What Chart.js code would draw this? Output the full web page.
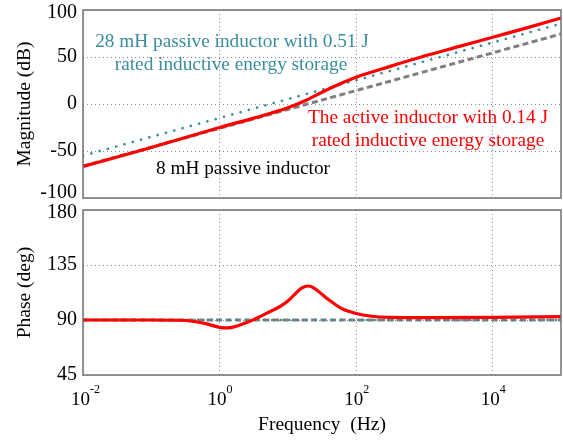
<!DOCTYPE html>
<html>
<head>
<meta charset="utf-8">
<script src="https://cdn.jsdelivr.net/npm/chart.js@4.4.0/dist/chart.umd.min.js"></script>
<style>
    body { margin: 0; background: #fff; }
    #wrap { position: relative; width: 563px; height: 440px; }
    #magBox { position: absolute; left: 0; top: 0; width: 563px; height: 212px; z-index: 2; }
    #phaseBox { position: absolute; left: 0; top: 200px; width: 563px; height: 240px; z-index: 1; }
</style>
</head>
<body>
<div id="wrap">
    <div id="magBox"><canvas id="magChart" width="563" height="212"></canvas></div>
    <div id="phaseBox"><canvas id="phaseChart" width="563" height="240"></canvas></div>
</div>
<script>
// frequency decades shown on the x axis
const decadeTicks = [0.01, 1, 100, 10000]
const decadeExp = ['-2', '0', '2', '4']

// passive inductors (straight lines in the bode plot)
const passiveFreq = [0.01, 100000]
const mag8mH = [-66, 74.5]
const mag28mH = [-55, 85.5]
const phasePassive = [90, 90]

// active inductor magnitude
const activeMagFreq = [0.01, 0.1, 1, 3.16, 10, 17.8, 31.6, 56.2, 100, 316, 1000, 3162, 10000, 31623, 100000]
const activeMag = [-66.5, -46.3, -25, -15, -4, 3.5, 12.5, 21, 28.5, 40, 51, 61, 71, 81, 91.5]

// active inductor phase
const activePhaseFreq = [0.01, 0.1, 0.251, 0.398, 0.631, 1, 1.26, 1.58, 2.51, 3.16, 3.98, 5.01, 6.31, 7.94, 10, 12.6, 15.8, 20, 25.1, 31.6, 39.8, 50.1, 63.1, 79.4, 100, 158, 316, 1000, 10000, 100000]
const activePhase = [90, 90, 89.8, 89, 87, 84, 83.5, 84.2, 88, 90.3, 93, 95.8, 98.5, 101.5, 105.5, 111, 116, 117.8, 115.5, 111, 106.5, 102.5, 99, 97, 95.3, 93.3, 92.2, 92, 92.2, 92.8]

const magTicks = [-100, -50, 0, 50, 100]
const phaseTicks = [45, 90, 135, 180]

const RED = '#ff0000'
const TEAL = '#3a8d9e'
const GREY = '#7f7f7f'
const SERIF = '"Liberation Serif", "DejaVu Serif", serif'

function pts(xs, ys) {
    return xs.map((x, i) => ({ x: x, y: ys[i] }))
}

function lineSet(label, data, color, width, dash) {
    return {
        label: label,
        data: data,
        borderColor: color,
        backgroundColor: color,
        borderWidth: width,
        borderDash: dash || [],
        borderCapStyle: dash && dash[0] < 1 ? 'round' : 'butt',
        pointRadius: 0,
        showLine: true,
        cubicInterpolationMode: 'monotone'
    }
}

function xAxis(showTitle) {
    return {
        type: 'logarithmic',
        min: 0.01,
        max: 100000,
        afterBuildTicks: s => { s.ticks = decadeTicks.map(v => ({ value: v })) },
        ticks: { display: false },
        grid: { color: '#8a8a8a', drawTicks: false, lineWidth: 1 },
        border: { display: false, dash: [1, 3] },
        title: {
            display: showTitle,
            text: 'Frequency  (Hz)',
            color: '#000',
            font: { family: SERIF, size: 19.5 },
            padding: { top: 0, bottom: 3 }
        },
        afterFit: s => { s.height = showTitle ? 65 : 14 }
    }
}

function yAxis(title, min, max, tickVals) {
    return {
        min: min,
        max: max,
        afterBuildTicks: s => { s.ticks = tickVals.map(v => ({ value: v })) },
        ticks: { display: false },
        grid: { color: '#8a8a8a', drawTicks: false, lineWidth: 1 },
        border: { display: false, dash: [1, 3] },
        title: {
            display: true,
            text: title,
            color: '#000',
            font: { family: SERIF, size: 19.5 },
            padding: { top: 13, bottom: 0 }
        },
        afterFit: s => {
            s.width = 83
            s.paddingTop = 0
            s.paddingBottom = 0
        }
    }
}

// grey frame round the plot area
const boxPlugin = {
    id: 'box',
    afterDraw(chart) {
        const a = chart.chartArea
        const ctx = chart.ctx
        ctx.save()
        ctx.strokeStyle = '#707070'
        ctx.lineWidth = 1.5
        ctx.strokeRect(a.left, a.top, a.right - a.left, a.bottom - a.top)
        ctx.restore()
    }
}

// y tick labels, end labels kept inside the box like matlab does
function yLabels(insetTop, insetBottom) {
    return {
        id: 'ylabels',
        afterDraw(chart) {
            const ctx = chart.ctx
            const sy = chart.scales.y
            const a = chart.chartArea
            ctx.save()
            ctx.fillStyle = '#000'
            ctx.font = '20px ' + SERIF
            ctx.textAlign = 'right'
            ctx.textBaseline = 'middle'
            sy.ticks.forEach(t => {
                let py = sy.getPixelForValue(t.value)
                py = Math.min(Math.max(py, a.top + insetTop), a.bottom - insetBottom)
                ctx.fillText(String(t.value), a.left - 6, py)
            })
            ctx.restore()
        }
    }
}

// 10^n labels under the phase plot
const decadeLabels = {
    id: 'decades',
    afterDraw(chart) {
        const ctx = chart.ctx
        const sx = chart.scales.x
        ctx.save()
        ctx.fillStyle = '#000'
        ctx.textBaseline = 'alphabetic'
        decadeTicks.forEach((v, i) => {
            const px = sx.getPixelForValue(v)
            ctx.font = '19px ' + SERIF
            ctx.textAlign = 'right'
            ctx.fillText('10', px + 7, 205)
            ctx.font = '12px ' + SERIF
            ctx.textAlign = 'left'
            ctx.fillText(decadeExp[i], px + 7, 193)
        })
        ctx.restore()
    }
}

// curve labels in the magnitude plot
const notes = [
    { text: '28 mH passive inductor with 0.51 J', x: 232, y: 42, color: TEAL },
    { text: 'rated inductive energy storage', x: 231, y: 65, color: TEAL },
    { text: 'The active inductor with 0.14 J', x: 428, y: 118, color: RED },
    { text: 'rated inductive energy storage', x: 428, y: 141, color: RED },
    { text: '8 mH passive inductor', x: 243, y: 169, color: '#000' }
]
const notePlugin = {
    id: 'notes',
    afterDraw(chart) {
        const ctx = chart.ctx
        ctx.save()
        ctx.font = '19.3px ' + SERIF
        ctx.textAlign = 'center'
        ctx.textBaseline = 'middle'
        notes.forEach(n => {
            ctx.fillStyle = n.color
            ctx.fillText(n.text, n.x, n.y)
        })
        ctx.restore()
    }
}

function magChart() {
    new Chart(document.getElementById('magChart'), {
        type: 'scatter',
        data: {
            datasets: [
                lineSet('active', pts(activeMagFreq, activeMag), RED, 3.2),
                lineSet('28 mH', pts(passiveFreq, mag28mH), TEAL, 2.6, [0.1, 8.5]),
                lineSet('8 mH', pts(passiveFreq, mag8mH), GREY, 3, [6, 3.5])
            ]
        },
        options: {
            responsive: false,
            animation: false,
            layout: { padding: { top: 10, right: 2, left: 0, bottom: 0 } },
            plugins: { legend: { display: false }, tooltip: { enabled: false } },
            scales: { x: xAxis(false), y: yAxis('Magnitude (dB)', -100, 100, magTicks) }
        },
        plugins: [boxPlugin, notePlugin, yLabels(3, 5)]
    })
}

function phaseChart() {
    new Chart(document.getElementById('phaseChart'), {
        type: 'scatter',
        data: {
            datasets: [
                lineSet('active', pts(activePhaseFreq, activePhase), RED, 3.2),
                lineSet('28 mH', pts(passiveFreq, phasePassive), TEAL, 2.6, [0.1, 8.5]),
                lineSet('8 mH', pts(passiveFreq, phasePassive), GREY, 3, [6, 3.5])
            ]
        },
        options: {
            responsive: false,
            animation: false,
            layout: { padding: { top: 10, right: 2, left: 0, bottom: 0 } },
            plugins: { legend: { display: false }, tooltip: { enabled: false } },
            scales: { x: xAxis(true), y: yAxis('Phase (deg)', 45, 180, phaseTicks) }
        },
        plugins: [boxPlugin, decadeLabels, yLabels(3, -1)]
    })
}

magChart()
phaseChart()
</script>
</body>
</html>
